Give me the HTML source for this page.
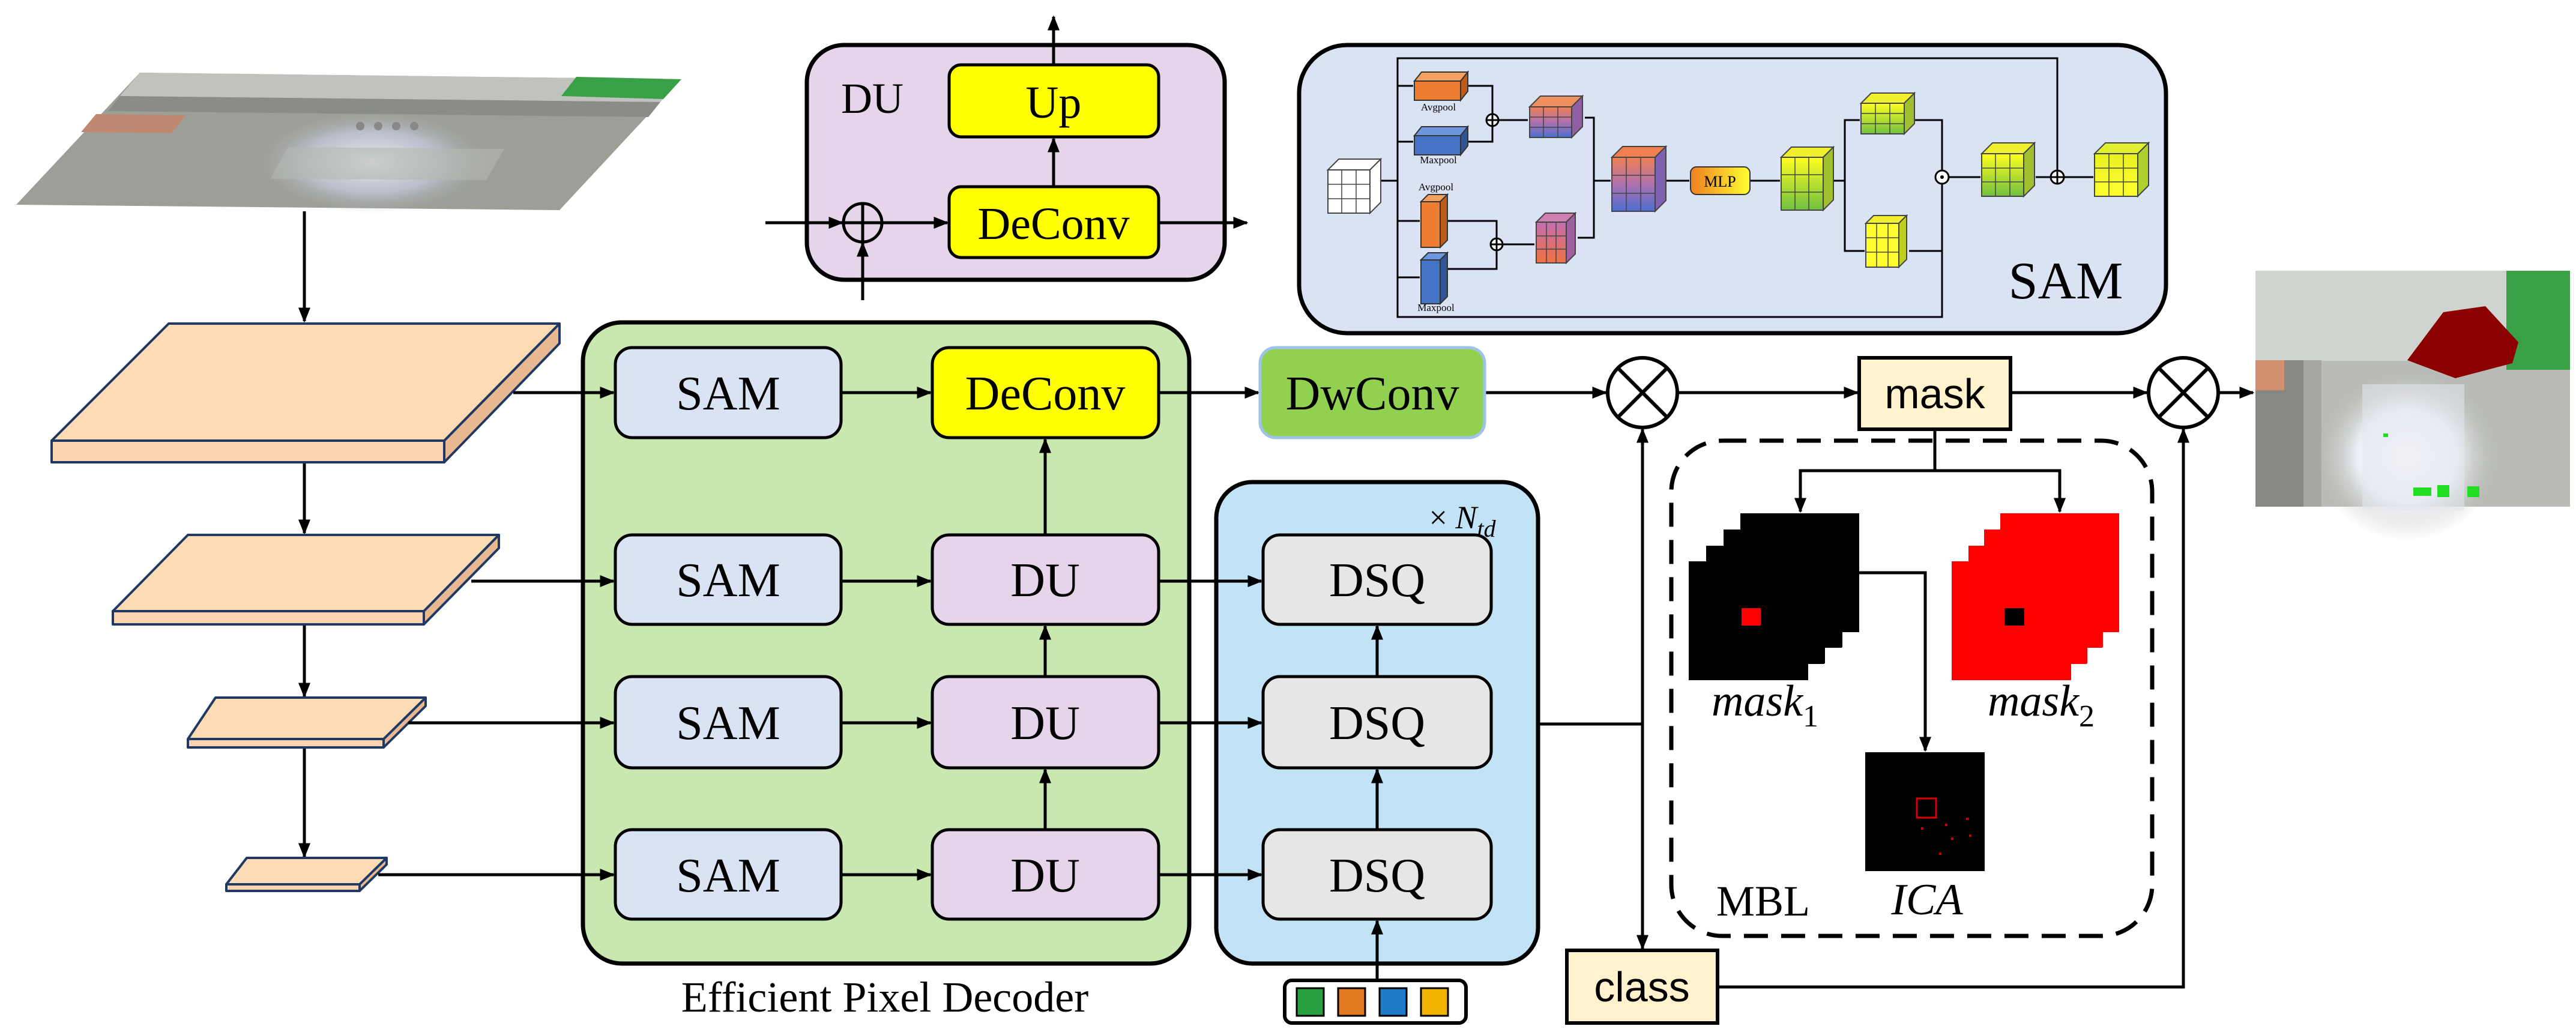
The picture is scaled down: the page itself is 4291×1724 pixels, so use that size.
<!DOCTYPE html>
<html><head><meta charset="utf-8"><style>
html,body{margin:0;padding:0;background:#fff;}
svg{display:block;}
.s{font-family:"Liberation Serif",serif;}
.a{font-family:"Liberation Sans",sans-serif;}
</style></head><body>
<svg width="4291" height="1724" viewBox="0 0 4291 1724" xmlns="http://www.w3.org/2000/svg">
<defs>
<marker id="ar" viewBox="0 0 10 10" refX="9" refY="5" markerWidth="5" markerHeight="5" orient="auto-start-reverse" markerUnits="strokeWidth"><path d="M0,1 L10,5 L0,9 z" fill="#000"/></marker>
<linearGradient id="pb" x1="0" y1="0" x2="0" y2="1"><stop offset="0" stop-color="#f08050"/><stop offset="0.5" stop-color="#b070b0"/><stop offset="1" stop-color="#4a6fd0"/></linearGradient>
<linearGradient id="pr" x1="0" y1="0" x2="0" y2="1"><stop offset="0" stop-color="#c070b0"/><stop offset="1" stop-color="#f07040"/></linearGradient>
<linearGradient id="gy" x1="0" y1="0" x2="0" y2="1"><stop offset="0" stop-color="#ffff20"/><stop offset="1" stop-color="#70c040"/></linearGradient>
<linearGradient id="yy" x1="0" y1="0" x2="0" y2="1"><stop offset="0" stop-color="#e8f020"/><stop offset="1" stop-color="#ffff30"/></linearGradient>
<linearGradient id="mlp" x1="0" y1="0" x2="1" y2="0"><stop offset="0" stop-color="#f08020"/><stop offset="1" stop-color="#ffff30"/></linearGradient>
<radialGradient id="glow" cx="0.5" cy="0.5" r="0.5"><stop offset="0" stop-color="#eeeefa"/><stop offset="0.6" stop-color="#c9cce0" stop-opacity="0.7"/><stop offset="1" stop-color="#a9aca8" stop-opacity="0"/></radialGradient>
<radialGradient id="glow2" cx="0.5" cy="0.5" r="0.5"><stop offset="0" stop-color="#ffffff"/><stop offset="0.55" stop-color="#eef0f8"/><stop offset="1" stop-color="#c0c3bc" stop-opacity="0"/></radialGradient>
</defs>

<!-- input photo -->
<polygon points="233,121 1135,132 932,350 27,341" fill="#9c9f98"/>
<polygon points="233,121 1135,132 1100,170 200,160" fill="#c0c3bd"/>
<polygon points="960,128 1135,132 1105,165 935,160" fill="#3aa048"/>
<polygon points="200,160 1100,170 1080,195 180,185" fill="#8a8d86"/>
<ellipse cx="620" cy="270" rx="190" ry="85" fill="url(#glow)"/>
<polygon points="160,190 310,192 285,222 135,220" fill="#c08870"/>
<polygon points="480,245 840,248 810,300 450,298" fill="#b4b7b0" opacity="0.6"/>
<g fill="#888"><circle cx="600" cy="210" r="7"/><circle cx="630" cy="210" r="7"/><circle cx="660" cy="210" r="7"/><circle cx="690" cy="210" r="7"/></g>

<g stroke="#000" stroke-width="5" fill="none">
<line x1="507" y1="352" x2="507" y2="535" marker-end="url(#ar)"/>
<line x1="507" y1="770" x2="507" y2="888" marker-end="url(#ar)"/>
<line x1="507" y1="1040" x2="507" y2="1160" marker-end="url(#ar)"/>
<line x1="507" y1="1245" x2="507" y2="1427" marker-end="url(#ar)"/>
</g>

<g stroke="#1f3864" stroke-width="4" stroke-linejoin="round">
<polygon points="86,734 740,734 740,770 86,770" fill="#fcd5b0"/>
<polygon points="740,734 932,539 932,572 740,770" fill="#e8b890"/>
<polygon points="281,539 932,539 740,734 86,734" fill="#fddcb5"/>
<polygon points="188,1018 706,1018 706,1040 188,1040" fill="#fcd5b0"/>
<polygon points="706,1018 831,891 831,913 706,1040" fill="#e8b890"/>
<polygon points="313,891 831,891 706,1018 188,1018" fill="#fddcb5"/>
<polygon points="313,1231 639,1231 639,1245 313,1245" fill="#fcd5b0"/>
<polygon points="639,1231 709,1162 709,1176 639,1245" fill="#e8b890"/>
<polygon points="359,1162 709,1162 639,1231 313,1231" fill="#fddcb5"/>
<polygon points="377,1473 599,1473 599,1484 377,1484" fill="#fcd5b0"/>
<polygon points="599,1473 644,1429 644,1440 599,1484" fill="#e8b890"/>
<polygon points="411,1429 644,1429 599,1473 377,1473" fill="#fddcb5"/>
</g>

<rect x="971" y="537" width="1010" height="1068" rx="65" fill="#c9e8b0" stroke="#000" stroke-width="7"/>
<text x="1474" y="1685" class="s" font-size="72" text-anchor="middle">Efficient Pixel Decoder</text>

<rect x="2026" y="803" width="536" height="802" rx="60" fill="#c2e2f5" stroke="#000" stroke-width="7"/>
<text x="2436" y="880" class="s" font-size="54" text-anchor="middle">× <tspan font-style="italic">N</tspan><tspan font-style="italic" font-size="40" dy="14">td</tspan></text>

<g stroke="#000" stroke-width="5">
<rect x="1025" y="579" width="376" height="150" rx="28" fill="#dae3f3"/>
<rect x="1025" y="891" width="376" height="149" rx="28" fill="#dae3f3"/>
<rect x="1025" y="1127" width="376" height="152" rx="28" fill="#dae3f3"/>
<rect x="1025" y="1382" width="376" height="149" rx="28" fill="#dae3f3"/>
<rect x="1553" y="579" width="377" height="150" rx="28" fill="#ffff00"/>
<rect x="1553" y="891" width="377" height="149" rx="28" fill="#e6d5ea"/>
<rect x="1553" y="1127" width="377" height="152" rx="28" fill="#e6d5ea"/>
<rect x="1553" y="1382" width="377" height="149" rx="28" fill="#e6d5ea"/>
<rect x="2104" y="891" width="380" height="149" rx="28" fill="#e7e6e6"/>
<rect x="2104" y="1127" width="380" height="152" rx="28" fill="#e7e6e6"/>
<rect x="2104" y="1382" width="380" height="149" rx="28" fill="#e7e6e6"/>
</g>
<g class="s" font-size="80" text-anchor="middle">
<text x="1213" y="682">SAM</text><text x="1213" y="993">SAM</text><text x="1213" y="1231">SAM</text><text x="1213" y="1485">SAM</text>
<text x="1741" y="682">DeConv</text><text x="1741" y="993">DU</text><text x="1741" y="1231">DU</text><text x="1741" y="1485">DU</text>
<text x="2294" y="993">DSQ</text><text x="2294" y="1231">DSQ</text><text x="2294" y="1485">DSQ</text>
</g>

<g stroke="#000" stroke-width="5" fill="none">
<line x1="855" y1="654" x2="1022" y2="654" marker-end="url(#ar)"/>
<line x1="785" y1="968" x2="1022" y2="968" marker-end="url(#ar)"/>
<line x1="680" y1="1204" x2="1022" y2="1204" marker-end="url(#ar)"/>
<line x1="630" y1="1457" x2="1022" y2="1457" marker-end="url(#ar)"/>
<line x1="1401" y1="654" x2="1550" y2="654" marker-end="url(#ar)"/>
<line x1="1401" y1="968" x2="1550" y2="968" marker-end="url(#ar)"/>
<line x1="1401" y1="1204" x2="1550" y2="1204" marker-end="url(#ar)"/>
<line x1="1401" y1="1457" x2="1550" y2="1457" marker-end="url(#ar)"/>
<line x1="1741" y1="891" x2="1741" y2="732" marker-end="url(#ar)"/>
<line x1="1741" y1="1127" x2="1741" y2="1043" marker-end="url(#ar)"/>
<line x1="1741" y1="1382" x2="1741" y2="1282" marker-end="url(#ar)"/>
<line x1="1930" y1="968" x2="2101" y2="968" marker-end="url(#ar)"/>
<line x1="1930" y1="1204" x2="2101" y2="1204" marker-end="url(#ar)"/>
<line x1="1930" y1="1457" x2="2101" y2="1457" marker-end="url(#ar)"/>
<line x1="2294" y1="1127" x2="2294" y2="1043" marker-end="url(#ar)"/>
<line x1="2294" y1="1382" x2="2294" y2="1282" marker-end="url(#ar)"/>
<line x1="2294" y1="1633" x2="2294" y2="1534" marker-end="url(#ar)"/>
<line x1="1930" y1="654" x2="2096" y2="654" marker-end="url(#ar)"/>
<line x1="2473" y1="654" x2="2675" y2="654" marker-end="url(#ar)"/>
<line x1="2794" y1="654" x2="3094" y2="654" marker-end="url(#ar)"/>
<line x1="3349" y1="654" x2="3576" y2="654" marker-end="url(#ar)"/>
<line x1="3695" y1="654" x2="3753" y2="654" marker-end="url(#ar)"/>
<line x1="2562" y1="1206" x2="2736" y2="1206"/>
<line x1="2736" y1="1206" x2="2736" y2="715" marker-end="url(#ar)"/>
<line x1="2736" y1="1206" x2="2736" y2="1580" marker-end="url(#ar)"/>
<polyline points="2861,1644 3637,1644 3637,715" marker-end="url(#ar)"/>
<line x1="3223" y1="715" x2="3223" y2="784"/>
<polyline points="2999,850 2999,784 3431,784 3431,850"/>
<line x1="2999" y1="820" x2="2999" y2="852" marker-end="url(#ar)"/>
<line x1="3431" y1="820" x2="3431" y2="852" marker-end="url(#ar)"/>
<polyline points="3097,954 3207,954 3207,1250" marker-end="url(#ar)"/>
</g>

<rect x="2140" y="1633" width="302" height="71" rx="12" fill="#fff" stroke="#000" stroke-width="6"/>
<g stroke="#000" stroke-width="3">
<rect x="2160" y="1646" width="45" height="46" fill="#2aa040"/>
<rect x="2229" y="1646" width="45" height="46" fill="#e07a20"/>
<rect x="2298" y="1646" width="45" height="46" fill="#1f78c8"/>
<rect x="2367" y="1646" width="45" height="46" fill="#f0b400"/>
</g>

<rect x="2099" y="579" width="374" height="150" rx="26" fill="#92d050" stroke="#9dc3e6" stroke-width="5"/>
<text x="2286" y="682" class="s" font-size="80" text-anchor="middle">DwConv</text>

<g stroke="#000" stroke-width="6" fill="#fff">
<circle cx="2736" cy="654" r="58"/>
<circle cx="3637" cy="654" r="58"/>
<line x1="2695" y1="613" x2="2777" y2="695"/><line x1="2777" y1="613" x2="2695" y2="695"/>
<line x1="3596" y1="613" x2="3678" y2="695"/><line x1="3678" y1="613" x2="3596" y2="695"/>
</g>

<rect x="3097" y="596" width="252" height="119" fill="#fff2cc" stroke="#000" stroke-width="6"/>
<text x="3223" y="680" class="a" font-size="70" text-anchor="middle">mask</text>
<rect x="2610" y="1583" width="251" height="121" fill="#fff2cc" stroke="#000" stroke-width="6"/>
<text x="2735" y="1668" class="a" font-size="70" text-anchor="middle">class</text>

<rect x="2784" y="734" width="801" height="825" rx="85" fill="none" stroke="#000" stroke-width="7" stroke-dasharray="40,22"/>

<g fill="#000">
<rect x="2898" y="855" width="199" height="198"/>
<rect x="2870" y="881" width="199" height="198"/>
<rect x="2841" y="908" width="199" height="198"/>
<rect x="2813" y="935" width="199" height="198"/>
</g>
<g stroke="#fff" stroke-width="2" fill="none">
<polyline points="2841,935 2841,908 2870,908 2870,881 2898,881 2898,855"/>
<polyline points="3012,1133 3040,1133 3040,1106 3069,1106 3069,1079 3097,1079 3097,1053"/>
</g>
<rect x="2901" y="1013" width="32" height="29" fill="#f00"/>
<g fill="#f00">
<rect x="3331" y="855" width="199" height="198"/>
<rect x="3304" y="881" width="199" height="198"/>
<rect x="3278" y="908" width="199" height="198"/>
<rect x="3251" y="935" width="199" height="198"/>
</g>
<g stroke="#fff" stroke-width="2" fill="none">
<polyline points="3278,935 3278,908 3304,908 3304,881 3331,881 3331,855"/>
<polyline points="3450,1133 3477,1133 3477,1106 3503,1106 3503,1079 3530,1079 3530,1053"/>
</g>
<rect x="3339" y="1013" width="33" height="29" fill="#000"/>
<rect x="3107" y="1253" width="199" height="198" fill="#000"/>
<rect x="3193" y="1330" width="32" height="32" fill="none" stroke="#d00" stroke-width="3"/>
<g fill="#c00"><rect x="3200" y="1378" width="4" height="4"/><rect x="3240" y="1372" width="4" height="4"/><rect x="3275" y="1362" width="4" height="4"/><rect x="3250" y="1395" width="4" height="4"/><rect x="3280" y="1390" width="4" height="4"/><rect x="3230" y="1420" width="4" height="4"/></g>

<g class="s" font-size="74" font-style="italic" text-anchor="middle">
<text x="2940" y="1192">mask<tspan font-style="normal" font-size="52" dy="18">1</tspan></text>
<text x="3400" y="1192">mask<tspan font-style="normal" font-size="52" dy="18">2</tspan></text>
<text x="3210" y="1523">ICA</text>
</g>
<text x="2937" y="1525" class="s" font-size="72" text-anchor="middle">MBL</text>

<!-- output photo -->
<rect x="3757" y="451" width="524" height="393" fill="#b9bcb6"/>
<rect x="3757" y="451" width="524" height="150" fill="#d0d4ce"/>
<rect x="4175" y="451" width="106" height="165" fill="#3aa048"/>
<rect x="3757" y="600" width="80" height="244" fill="#8a8882"/>
<rect x="3837" y="600" width="30" height="244" fill="#a5a7a1"/>
<ellipse cx="4010" cy="760" rx="150" ry="140" fill="url(#glow2)"/>
<rect x="3935" y="640" width="170" height="210" fill="#e4e6ee" opacity="0.55"/>
<rect x="3757" y="600" width="48" height="50" fill="#d09070"/>
<polygon points="4070,520 4140,510 4195,570 4185,605 4090,630 4010,600" fill="#8b0000"/>
<g fill="#22dd22"><rect x="4020" y="812" width="30" height="14"/><rect x="4060" y="808" width="20" height="20"/><rect x="4110" y="810" width="20" height="18"/><rect x="3970" y="722" width="8" height="6"/></g>

<!-- DU detail box -->
<rect x="1344" y="75" width="696" height="391" rx="62" fill="#e6d5ea" stroke="#000" stroke-width="7"/>
<text x="1453" y="188" class="s" font-size="72" text-anchor="middle">DU</text>
<rect x="1581" y="108" width="349" height="120" rx="20" fill="#ffff00" stroke="#000" stroke-width="5"/>
<rect x="1581" y="311" width="349" height="118" rx="20" fill="#ffff00" stroke="#000" stroke-width="5"/>
<text x="1755" y="196" class="s" font-size="76" text-anchor="middle">Up</text>
<text x="1755" y="398" class="s" font-size="76" text-anchor="middle">DeConv</text>
<g stroke="#000" stroke-width="5" fill="none">
<line x1="1755" y1="108" x2="1755" y2="28" marker-end="url(#ar)"/>
<line x1="1755" y1="311" x2="1755" y2="231" marker-end="url(#ar)"/>
<line x1="1275" y1="371" x2="1403" y2="371" marker-end="url(#ar)"/>
<line x1="1469" y1="371" x2="1578" y2="371" marker-end="url(#ar)"/>
<line x1="1930" y1="371" x2="2077" y2="371" marker-end="url(#ar)"/>
<line x1="1437" y1="500" x2="1437" y2="405" marker-end="url(#ar)"/>
<circle cx="1437" cy="371" r="32" fill="#e6d5ea"/>
<line x1="1405" y1="371" x2="1469" y2="371"/><line x1="1437" y1="339" x2="1437" y2="403"/>
</g>

<!-- SAM detail box -->
<rect x="2164" y="75" width="1444" height="480" rx="80" fill="#dae3f3" stroke="#000" stroke-width="7"/>
<text x="3441" y="497" class="s" font-size="88" text-anchor="middle">SAM</text>
<g stroke="#000" stroke-width="3" fill="none">
<polyline points="2328,301 2328,97 3427,97 3427,285"/>
<polyline points="2328,301 2328,528 3235,528 3235,305"/>
<line x1="2301" y1="301" x2="2328" y2="301"/>
<line x1="2328" y1="143" x2="2354" y2="143"/>
<line x1="2328" y1="236" x2="2354" y2="236"/>
<line x1="2328" y1="368" x2="2365" y2="368"/>
<line x1="2328" y1="462" x2="2365" y2="462"/>
<polyline points="2445,143 2486,143 2486,236 2445,236"/>
<polyline points="2411,368 2493,368 2493,448 2411,448"/>
<line x1="2496" y1="200" x2="2545" y2="200"/>
<line x1="2503" y1="407" x2="2556" y2="407"/>
<polyline points="2640,196 2655,196 2655,396 2628,396"/>
<line x1="2655" y1="301" x2="2683" y2="301"/>
<line x1="2775" y1="301" x2="2814" y2="301"/>
<line x1="2915" y1="301" x2="2965" y2="301"/>
<polyline points="3055,301 3073,301"/>
<polyline points="3098,200 3073,200 3073,418 3106,418"/>
<polyline points="3190,200 3235,200 3235,285"/>
<polyline points="3180,418 3235,418"/>
<line x1="3245" y1="295" x2="3299" y2="295"/>
<line x1="3391" y1="295" x2="3417" y2="295"/>
<line x1="3437" y1="295" x2="3487" y2="295"/>
<circle cx="2486" cy="200" r="10" fill="#fff"/><line x1="2476" y1="200" x2="2496" y2="200"/><line x1="2486" y1="190" x2="2486" y2="210"/>
<circle cx="2493" cy="407" r="10" fill="#fff"/><line x1="2483" y1="407" x2="2503" y2="407"/><line x1="2493" y1="397" x2="2493" y2="417"/>
<circle cx="3235" cy="295" r="11" fill="#fff"/>
<circle cx="3427" cy="295" r="11" fill="#fff"/><line x1="3416" y1="295" x2="3438" y2="295"/><line x1="3427" y1="284" x2="3427" y2="306"/>
</g>
<circle cx="3235" cy="295" r="3" fill="#000"/>
<g stroke="#333" stroke-width="2">
<polygon points="2356,135 2368,120 2445,120 2433,135" fill="#f4a060"/><rect x="2356" y="135" width="77" height="32" fill="#ed7d31"/><polygon points="2433,135 2445,120 2445,152 2433,167" fill="#c05a18"/>
<polygon points="2356,226 2368,211 2445,211 2433,226" fill="#6e96dc"/><rect x="2356" y="226" width="77" height="32" fill="#4472c4"/><polygon points="2433,226 2445,211 2445,243 2433,258" fill="#2f5597"/>
<polygon points="2367,336 2379,324 2411,324 2399,336" fill="#f4a060"/><rect x="2367" y="336" width="32" height="76" fill="#ed7d31"/><polygon points="2399,336 2411,324 2411,400 2399,412" fill="#c05a18"/>
<polygon points="2367,433 2379,421 2411,421 2399,433" fill="#6e96dc"/><rect x="2367" y="433" width="32" height="73" fill="#4472c4"/><polygon points="2399,433 2411,421 2411,494 2399,506" fill="#2f5597"/>
</g>
<g class="s" font-size="17" text-anchor="middle">
<text x="2396" y="184">Avgpool</text><text x="2396" y="272">Maxpool</text><text x="2392" y="317">Avgpool</text><text x="2392" y="518">Maxpool</text>
</g>
<g stroke="#444" stroke-width="2">
<polygon points="2212,283 2230,265 2300,265 2282,283" fill="#fff"/><rect x="2212" y="283" width="70" height="72" fill="#fff"/><polygon points="2282,283 2300,265 2300,337 2282,355" fill="#fff"/>
<polygon points="2548,178 2566,160 2636,160 2618,178" fill="#f09060"/><rect x="2548" y="178" width="70" height="51" fill="url(#pb)"/><polygon points="2618,178 2636,160 2636,211 2618,229" fill="#9060a0"/>
<polygon points="2559,370 2574,355 2624,355 2609,370" fill="#d080b0"/><rect x="2559" y="370" width="50" height="68" fill="url(#pr)"/><polygon points="2609,370 2624,355 2624,423 2609,438" fill="#a060a0"/>
<polygon points="2685,262 2703,244 2775,244 2757,262" fill="#f08050"/><rect x="2685" y="262" width="72" height="90" fill="url(#pb)"/><polygon points="2757,262 2775,244 2775,334 2757,352" fill="#8060b0"/>
<polygon points="2967,262 2984,245 3054,245 3037,262" fill="#f0f030"/><rect x="2967" y="262" width="70" height="88" fill="url(#gy)"/><polygon points="3037,262 3054,245 3054,333 3037,350" fill="#a0c030"/>
<polygon points="3100,172 3117,155 3189,155 3172,172" fill="#f0f030"/><rect x="3100" y="172" width="72" height="51" fill="url(#gy)"/><polygon points="3172,172 3189,155 3189,206 3172,223" fill="#a0c030"/>
<polygon points="3108,372 3121,359 3176,359 3163,372" fill="#f0f030"/><rect x="3108" y="372" width="55" height="73" fill="#ffff30"/><polygon points="3163,372 3176,359 3176,432 3163,445" fill="#c0d020"/>
<polygon points="3301,256 3319,238 3389,238 3371,256" fill="#f0f030"/><rect x="3301" y="256" width="70" height="71" fill="url(#gy)"/><polygon points="3371,256 3389,238 3389,309 3371,327" fill="#a0c030"/>
<polygon points="3489,256 3507,238 3579,238 3561,256" fill="#e0f030"/><rect x="3489" y="256" width="72" height="71" fill="url(#yy)"/><polygon points="3561,256 3579,238 3579,309 3561,327" fill="#b0d030"/>
</g>
<g stroke="#444" stroke-width="1.5">
<path d="M2235,283v72M2259,283v72M2212,307h70M2212,331h70"/>
<path d="M2571,178v51M2595,178v51M2548,195h70M2548,212h70"/>
<path d="M2576,370v68M2592,370v68M2559,393h50M2559,415h50"/>
<path d="M2709,262v90M2733,262v90M2685,292h72M2685,322h72"/>
<path d="M2990,262v88M3013,262v88M2967,291h70M2967,320h70"/>
<path d="M3124,172v51M3148,172v51M3100,189h72M3100,206h72"/>
<path d="M3126,372v73M3145,372v73M3108,396h55M3108,420h55"/>
<path d="M3324,256v71M3348,256v71M3301,280h70M3301,303h70"/>
<path d="M3513,256v71M3537,256v71M3489,280h72M3489,303h72"/>
</g>
<rect x="2816" y="278" width="99" height="46" rx="10" fill="url(#mlp)" stroke="#333" stroke-width="2"/>
<text x="2865" y="311" class="s" font-size="26" text-anchor="middle">MLP</text>
</svg>
</body></html>
